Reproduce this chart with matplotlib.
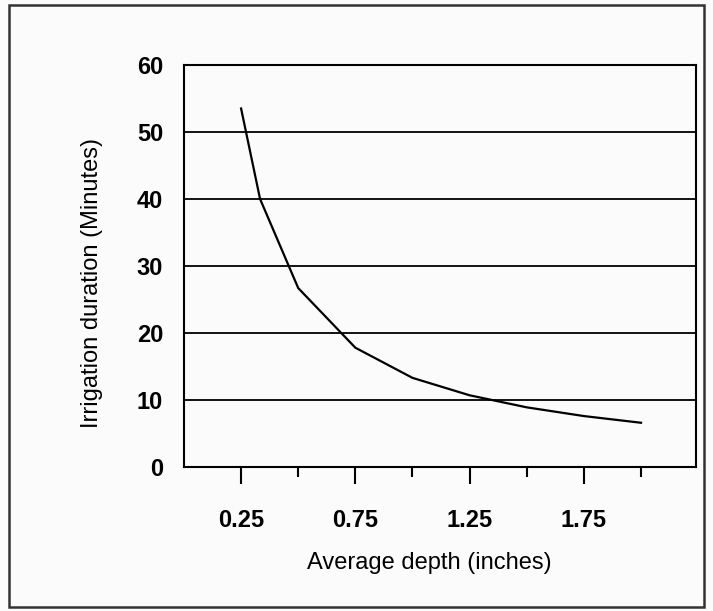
import matplotlib.pyplot as plt
from matplotlib.patches import Rectangle

# Datos
depth = [0.25, 0.333, 0.5, 0.75, 1.0, 1.25, 1.5, 1.75, 2.0]
duration = [53.5, 40.0, 26.7, 17.8, 13.3, 10.7, 8.9, 7.6, 6.6]
major_ticks = [0.25, 0.75, 1.25, 1.75]
minor_ticks = [0.5, 1.0, 1.5, 2.0]
y_ticks = [0, 10, 20, 30, 40, 50, 60]

plt.rcParams['font.family'] = ['Liberation Sans', 'DejaVu Sans']

fig = plt.figure(figsize=(7.13, 6.11), dpi=100, facecolor='#fbfbfb')
ax = fig.add_axes([0.258, 0.2357, 0.718, 0.658])
ax.set_facecolor('#fbfbfb')

# marco exterior
fig.patches.append(Rectangle((0.012, 0.006), 0.976, 0.985, transform=fig.transFigure,
                             fill=False, edgecolor='#333333', linewidth=1.8))

for y in y_ticks[1:-1]:
    ax.axhline(y, color='black', linewidth=1.3, zorder=1)

ax.plot(depth, duration, color='black', linewidth=1.6, zorder=2)

ax.set_xlim(0, 2.24)
ax.set_ylim(0, 60)
ax.set_yticks(y_ticks)
ax.set_xticks(major_ticks)
ax.set_xticks(minor_ticks, minor=True)
ax.set_xticklabels(['0.25', '0.75', '1.25', '1.75'], fontsize=17, fontweight='bold')
ax.set_yticklabels([str(v) for v in y_ticks], fontsize=17, fontweight='bold')
ax.tick_params(axis='y', length=0, pad=15)
ax.tick_params(axis='x', which='major', length=12, width=1.5, pad=18)
ax.tick_params(axis='x', which='minor', length=7, width=1.5)

for s in ax.spines.values():
    s.set_linewidth(1.5)

ax.set_xlabel('Average depth (inches)', fontsize=17)
ax.set_ylabel('Irrigation duration (Minutes)', fontsize=17)
ax.xaxis.set_label_coords(0.48, -0.212)
ax.yaxis.set_label_coords(-0.158, 0.458)

fig.savefig('out.png', dpi=100, facecolor=fig.get_facecolor())
